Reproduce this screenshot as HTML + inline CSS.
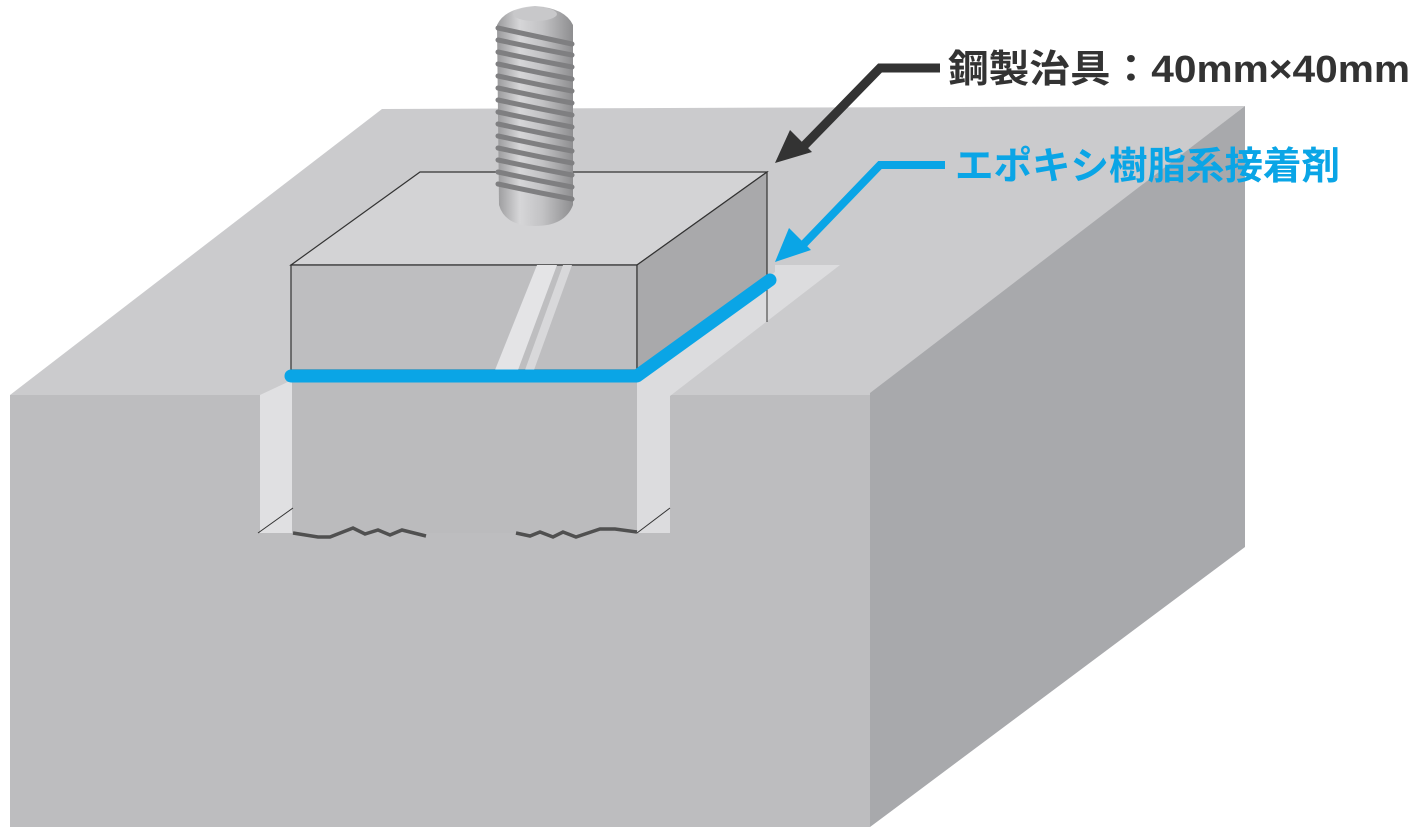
<!DOCTYPE html>
<html><head><meta charset="utf-8"><style>
html,body{margin:0;padding:0;background:#fff;}
svg{display:block;}
</style></head><body>
<svg width="1419" height="831" viewBox="0 0 1419 831" xmlns="http://www.w3.org/2000/svg">
<defs>
<linearGradient id="bolt" x1="0" x2="1" y1="0" y2="0">
<stop offset="0" stop-color="#9a9a9c"/><stop offset="0.3" stop-color="#d6d6d8"/><stop offset="0.6" stop-color="#c2c2c4"/><stop offset="1" stop-color="#8e8e90"/>
</linearGradient>
</defs>
<polygon points="10,395 382,109 1245,106 870,395" fill="#cbcbcd"/>
<polygon points="870,393 1245,106 1245,547 870,827" fill="#a8a9ac"/>
<polygon points="10,395 260,395 260,533 670,533 670,395 870,395 870,827 10,827" fill="#bdbdbf"/>
<rect x="292" y="380" width="345" height="153" fill="#bbbbbd"/>
<polygon points="260,395 292,380 292,533 260,533" fill="#e0e0e2"/>
<polygon points="637,382 775,272 775,265 840,265 670,396 670,533 637,533" fill="#dcdcde"/>
<line x1="258" y1="533" x2="293" y2="508" stroke="#333" stroke-width="1"/>
<line x1="637" y1="533" x2="670" y2="508" stroke="#333" stroke-width="1"/>
<polyline points="293,533 318,537 330,537 353,528 365,534 378,530 390,535 402,530 426,536" fill="none" stroke="#505050" stroke-width="3.5"/>
<polyline points="516,533 530,536 540,532 553,537 563,532 576,537 600,529 615,529 637,532" fill="none" stroke="#505050" stroke-width="3.5"/>
<polygon points="291,265 420,172 767,172 637,265" fill="#d3d3d5" stroke="#333" stroke-width="1.2"/>
<polygon points="291,265 637,265 637,370 291,370" fill="#bebec0" stroke="#333" stroke-width="1.2"/>
<polygon points="637,265 767,172 767,278 637,370" fill="#a9a9ab" stroke="#333" stroke-width="1.2"/>
<line x1="767" y1="278" x2="767" y2="322" stroke="#333" stroke-width="1"/>
<polygon points="537,265 557,265 518,370 495,370" fill="#e4e4e6"/>
<polygon points="563,265 572,265 534,370 525,370" fill="#d8d8da"/>
<polyline points="291,376 637,376 770,280" fill="none" stroke="#0aa5e6" stroke-width="13" stroke-linecap="round" stroke-linejoin="round"/>
<path d="M497,25 Q505,8 535,6 Q565,8 573,25 L573,205 Q565,226 535,226 Q505,226 499,205 Z" fill="url(#bolt)"/>
<ellipse cx="535" cy="14" rx="22" ry="7" fill="#c8c8ca"/>
<g fill="none" stroke="#7f7f81" stroke-width="5" stroke-linecap="round">
<path d="M498,28 Q535,36 572,44"/><path d="M498,40 Q535,48 572,55"/><path d="M498,52 Q535,60 572,67"/><path d="M498,64 Q535,72 572,79"/><path d="M498,76 Q535,84 572,91"/><path d="M498,88 Q535,96 572,103"/><path d="M498,100 Q535,108 572,115"/><path d="M498,112 Q535,120 572,127"/><path d="M498,124 Q535,132 572,139"/><path d="M498,136 Q535,144 572,151"/><path d="M498,148 Q535,156 572,163"/><path d="M498,160 Q535,168 572,175"/><path d="M498,172 Q535,180 572,187"/><path d="M498,184 Q535,192 572,199"/>
</g>
<polyline points="940,68 880,68 800,150" fill="none" stroke="#333" stroke-width="9"/>
<polygon points="775,163 790,130 812,152" fill="#333"/>
<polyline points="945,165 880,165 800,248" fill="none" stroke="#0aa5e6" stroke-width="8"/>
<polygon points="775,262 789,228 811,250" fill="#0aa5e6"/>
<text x="948" y="82" textLength="462" lengthAdjust="spacingAndGlyphs" font-family="'Liberation Sans','Noto Sans CJK JP',sans-serif" font-weight="bold" font-size="38" fill="#333">鋼製治具：40mm×40mm</text>
<text x="955" y="179" textLength="385" lengthAdjust="spacingAndGlyphs" font-family="'Liberation Sans','Noto Sans CJK JP',sans-serif" font-weight="bold" font-size="38" fill="#0aa5e6">エポキシ樹脂系接着剤</text>
</svg>
</body></html>
